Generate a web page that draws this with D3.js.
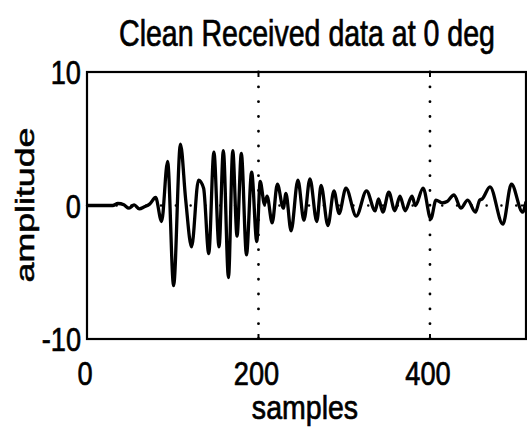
<!DOCTYPE html>
<html>
<head>
<meta charset="utf-8">
<script src="https://cdn.jsdelivr.net/npm/d3@7"></script>
<style>
	body { margin: 0; background: #fff; }
	text { font-family: "Liberation Sans", Arial, sans-serif; fill: #000; stroke: #000; stroke-width: 0.7px; }
</style>
</head>
<body>
<div id="chart"></div>
<script>

	// sample index and amplitude (peaks, troughs, shoulders)
	var samples = [0, 30, 36, 43, 49, 55, 61, 67, 73, 80, 87, 94, 101, 109, 115, 122, 130, 136, 142, 148,
		154, 159, 165, 170, 175, 180, 186, 192, 198, 202, 207, 210, 216, 222, 229, 232, 238, 246, 253, 260,
		268, 273, 281, 288, 294, 302, 314, 326, 336, 340, 345, 352, 359, 365, 371, 379, 383, 392, 401, 407,
		414, 420, 428, 436, 444, 453, 458, 461, 470, 485, 495, 508, 512];

	var amplitude = [0, 0, 0.15, 0.05, -0.2, 0.05, -0.25, -0.1, 0.1, 0.6, -1.2, 3.3, -6.0, 4.6, 0.5, -3.1, 1.9, 1.3, -3.6, 4.0,
		-3.1, 4.1, -5.4, 4.1, -2.3, 3.9, -3.7, 2.5, -2.7, 1.8, 0.1, 0.7, -1.3, 1.6, -0.2, 0.9, -1.9, 1.9, -1.1, 2.0,
		-1.2, 1.5, -1.5, 1.1, -0.6, 1.3, -0.8, 1.1, -0.4, 0.5, -0.5, 1.0, -0.4, 0.7, -0.4, 0.7, 0.0, 1.3, -1.0, 0.4,
		0.2, 0.3, 0.8, -0.2, 0.4, -0.5, 0.4, 0.5, 1.4, -1.4, 1.6, -0.5, 0.3];

	var xTicks = [0, 200, 400];
	var yTicks = [-10, 0, 10];
	var gridX = [200, 400];
	var gridY = [0];

	var titleText = "Clean Received data at 0 deg";
	var xLabel = "samples";
	var yLabel = "amplitude";

	var plotLeft = 87, plotRight = 526, plotTop = 72, plotBottom = 339;

	var x = d3.scaleLinear().domain([0, 512]).range([plotLeft, plotRight]);
	var y = d3.scaleLinear().domain([-10, 10]).range([plotBottom, plotTop]);

	var svg = d3.select('#chart').append('svg')
		.attr('width', 527)
		.attr('height', 438);

	// narrow text: the original lettering is condensed, so squeeze it sideways
	function narrowText(px, py, k, size, anchor, str) {
		return svg.append("text")
			.attr("transform", "translate(" + px + "," + py + ") scale(" + k + ",1)")
			.attr("text-anchor", anchor)
			.style("font-size", size + "px")
			.text(str);
	}

	// dotted grid
	svg.selectAll(".gx")
		.data(gridX)
		.enter()
		.append("line")
		.attr("x1", function(d){ return x(d); })
		.attr("x2", function(d){ return x(d); })
		.attr("y1", plotTop)
		.attr("y2", plotBottom)
		.attr("stroke", "#000")
		.attr("stroke-width", 2.8)
		.attr("stroke-linecap", "round")
		.attr("stroke-dasharray", "0.1,14.7");

	svg.selectAll(".gy")
		.data(gridY)
		.enter()
		.append("line")
		.attr("x1", plotLeft)
		.attr("x2", plotRight)
		.attr("y1", function(d){ return y(d); })
		.attr("y2", function(d){ return y(d); })
		.attr("stroke", "#000")
		.attr("stroke-width", 2.4)
		.attr("stroke-linecap", "round")
		.attr("stroke-dasharray", "0.1,14.7");

	// the trace
	var line = d3.line()
		.x(function(d){ return x(d); })
		.y(function(d, i){ return y(amplitude[i]); })
		.curve(d3.curveMonotoneX);

	svg.append("path")
		.attr("d", line(samples))
		.attr("fill", "none")
		.attr("stroke", "#000")
		.attr("stroke-width", 3.3)
		.attr("stroke-linejoin", "round");

	// box
	svg.append("rect")
		.attr("x", plotLeft)
		.attr("y", plotTop)
		.attr("width", plotRight - plotLeft)
		.attr("height", plotBottom - plotTop)
		.attr("fill", "none")
		.attr("stroke", "#000")
		.attr("stroke-width", 2.2);

	// inward ticks
	var tickLen = 5;
	xTicks.forEach(function(t){
		svg.append("line").attr("x1", x(t)).attr("x2", x(t)).attr("y1", plotBottom).attr("y2", plotBottom - tickLen)
			.attr("stroke", "#000").attr("stroke-width", 2);
		svg.append("line").attr("x1", x(t)).attr("x2", x(t)).attr("y1", plotTop).attr("y2", plotTop + tickLen)
			.attr("stroke", "#000").attr("stroke-width", 2);
	});
	yTicks.forEach(function(t){
		svg.append("line").attr("x1", plotLeft).attr("x2", plotLeft + tickLen).attr("y1", y(t)).attr("y2", y(t))
			.attr("stroke", "#000").attr("stroke-width", 2);
		svg.append("line").attr("x1", plotRight).attr("x2", plotRight - tickLen).attr("y1", y(t)).attr("y2", y(t))
			.attr("stroke", "#000").attr("stroke-width", 2);
	});

	// tick labels
	xTicks.forEach(function(t){
		narrowText(x(t) - 2, 385, 0.8, 34, "middle", t);
	});
	yTicks.forEach(function(t){
		narrowText(81, y(t) + 12, 0.8, 34, "end", t);
	});

	// title and axis labels
	narrowText(307, 46, 0.793, 36, "middle", titleText);
	narrowText(305, 419, 0.84, 34, "middle", xLabel);

	svg.append("g")
		.attr("transform", "translate(34,205) scale(0.75,1) rotate(-90)")
		.append("text")
		.attr("text-anchor", "middle")
		.style("font-size", "34px")
		.attr("textLength", 155)
		.attr("lengthAdjust", "spacingAndGlyphs")
		.text(yLabel);

</script>
</body>
</html>
